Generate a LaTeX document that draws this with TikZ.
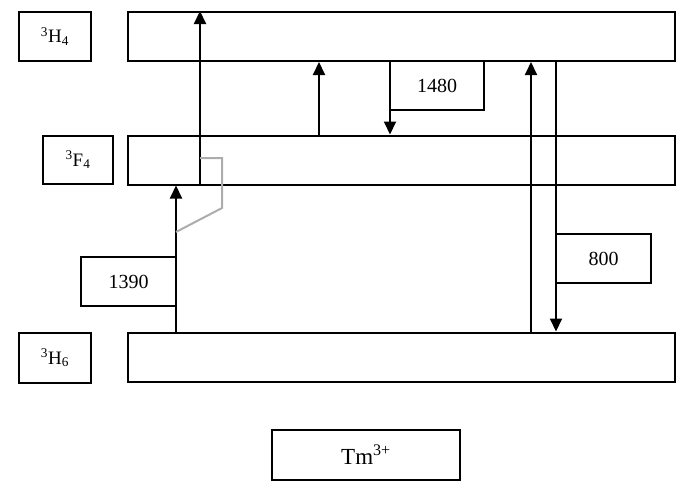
\documentclass[tikz,border=0pt]{standalone}
\usepackage{fontspec}
\setmainfont{Liberation Serif}
\usetikzlibrary{arrows.meta}
\begin{document}
\begin{tikzpicture}[x=1pt,y=-1pt,
  box/.style={draw,line width=2pt,inner sep=0pt,font=\fontsize{20}{22}\selectfont},
  lvl/.style={box,minimum width=547pt,minimum height=49pt},
  arr/.style={line width=2pt,-{Triangle[width=12pt,length=13pt]}},
  hint/.style={draw=gray!65,line width=2pt}]
\useasboundingbox (0,0) rectangle (685,482);
% level bars
\node[lvl] (h4) at (401.5,36.5) {};
\node[lvl] (f4) at (401.5,160) {};
\node[lvl] (h6) at (401.5,357) {};
% level labels
\node[box,minimum width=72pt,minimum height=49pt,font=\fontsize{19}{21}\selectfont] (lh4) at (55,36.5) {\textsuperscript{3}H\textsubscript{4}};
\node[box,minimum width=70pt,minimum height=48pt,font=\fontsize{19}{21}\selectfont] (lf4) at (78,160) {\textsuperscript{3}F\textsubscript{4}};
\node[box,minimum width=72pt,minimum height=50pt,font=\fontsize{19}{21}\selectfont] (lh6) at (55,358) {\textsuperscript{3}H\textsubscript{6}};
\node[box,minimum width=188pt,minimum height=50pt,font=\fontsize{23}{25}\selectfont] (tm) at (366,455) {Tm\textsuperscript{3+}};
% wavelength labels
\node[box,minimum width=95pt,minimum height=49pt] (w1390) at (128.5,281.5) {1390};
\node[box,minimum width=94pt,minimum height=49pt] (w1480) at (437,85.5) {1480};
\node[box,minimum width=95pt,minimum height=49pt] (w800) at (603.5,258.5) {800};
% x positions
\coordinate (xa) at (176,0);
\coordinate (xb) at (200,0);
\coordinate (xc) at (319,0);
\coordinate (xd) at (390,0);
\coordinate (xe) at (531,0);
\coordinate (xf) at (556,0);
% transitions
\draw[arr] (h6.north -| xa) -- (f4.south -| xa);
\draw[arr] (f4.south -| xb) -- (h4.north -| xb);
\draw[arr] (f4.north -| xc) -- (h4.south -| xc);
\draw[arr] (h4.south -| xd) -- (f4.north -| xd);
\draw[arr] (h6.north -| xe) -- (h4.south -| xe);
\draw[arr] (h4.south -| xf) -- (h6.north -| xf);
% energy-transfer hint
\coordinate (g1) at (200,158);
\coordinate (g2) at (222,158);
\coordinate (g3) at (222,208);
\coordinate (g4) at (176,232);
\draw[hint] (g1) -- (g2) -- (g3) -- (g4);
\end{tikzpicture}
\end{document}
